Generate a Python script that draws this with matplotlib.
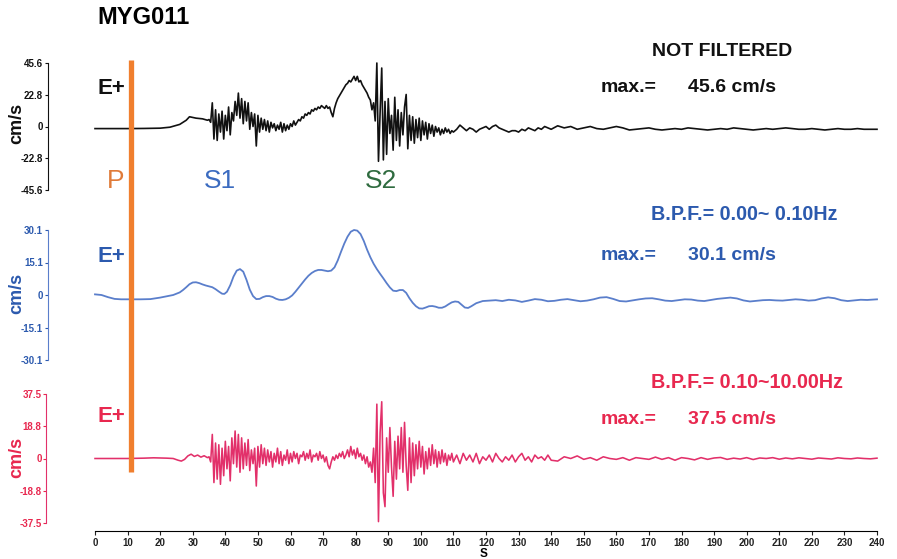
import matplotlib
matplotlib.use("Agg")
import matplotlib.pyplot as plt
import matplotlib.transforms as mtransforms
from matplotlib.lines import Line2D
import numpy as np

plt.rcParams['font.family'] = ['Liberation Sans', 'DejaVu Sans']

# ---- data (time in s, velocity in cm/s) ----
station = 'MYG011'
p_time = 11.0

# sample grids of the strong-motion part and of the coda
t_mid = np.arange(35.0, 110.5, 0.5)
t_coda1 = np.arange(111, 141, 1)
t_coda2 = np.arange(142, 242, 2)

# not filtered (black)
t_raw_head = [0, 5, 10, 15, 20, 23, 26, 28, 29, 31, 33, 34.5]
v_raw_head = [-1.5, -1.5, -1.5, -1.4, -1.2, -0.5, 1.5, 4.5, 7, 6, 5.5, 4.5]
v_raw_mid = [
    5, 3, 17, -9, 12, -10, 9, -4, 11, -9,
    8, -3, 14, -6, 10, 4, 18, 8, 24, 6,
    20, 2, 18, 4, 17, -2, 10, 0, 9, -14,
    8, -4, 6, -2, 5, -3, 4, -4, 3, -1,
    2, -3, 1, -2, 3, -4, 2, -3, 1, -2,
    2, 0, 4, 1, 3, 5, 4, 7, 6, 9,
    8, 10, 9, 12, 11, 13, 12, 14, 13, 15,
    14, 13, 15, 13, 14, 10, 7, 13, 17, 20,
    22, 24, 26, 28, 30, 31, 33, 32, 34, 36,
    33, 36, 32, 33, 30, 28, 26, 24, 21, 19,
    12, 17, 4, 45.6, -25, 10, 42, -24, 18, -20,
    20, -5, 8, -17, 21, -10, 12, -14, 10, -6,
    14, 23, -16, 8, -10, 7, -12, 5, -8, 6,
    -10, 4, -6, 3, -9, 2, -5, 1, -7, 0,
    -4, -1, -6, -2, -5, -1, -4, -2, -5, -3,
    -4,
]
v_raw_coda1 = [-2, 1, -1, -3, -1, -2, -4, -2, -1, 0,
               -2, 0, 1, -1, -2, -3, -4, -3, -3, -4,
               -2, -3, -1, -2, -3, -1, -2, 0, -1, -2]
v_raw_coda2 = [0.5, -1, 0, -2, -1, 0, -1.5, -2, -1, 0,
               -1, -2.5, -2, -1.5, -1, -2, -2.5, -2, -1.5, -2,
               -1, -1.5, -2, -2.5, -2, -1.5, -2, -1, -1.5, -2,
               -2.5, -2, -1.5, -2, -1.5, -1, -1.5, -2, -2, -1.5,
               -2, -2.5, -2, -1.5, -2, -2, -1.5, -2, -2, -2]

# band pass 0.00-0.10 Hz (blue)
t_low = [0, 2, 4, 6, 8, 10, 14, 17, 20, 22, 24, 26, 27, 28, 29, 30, 31, 32, 33, 34,
         35, 36, 37, 38, 39, 39.7, 40.5, 41.5, 42.5, 43.5, 44.5, 45.5, 46.5, 47.5, 48.5,
         49.5, 50.5, 51.5, 52.5, 53.5, 54.5, 55.5, 56.5, 57.5, 58.5, 59.5, 60.5, 61.5,
         62.5, 63.5, 64.5, 65.5, 66.5, 67.5, 68.5, 69.5, 70.5, 71.5, 72.5, 73.5, 74.5,
         75.5, 76.5, 77.5, 78.5, 79.5, 80.5, 81.5, 82.5, 83.5, 84.5, 85.5, 86.5, 87.5,
         88.5, 89.5, 90.5, 91.5, 92.5, 93.5, 94.5, 95.5, 96.5, 97.5, 98.5, 99.5, 100.5,
         101.5, 102.5, 103.5, 104.5, 105.5, 106.5, 107.5, 108.5, 109.5, 110.5, 111.5,
         112.5, 113.5, 114.5, 115.5, 117, 119, 121, 123, 125, 127, 129, 131, 133, 135,
         137, 139, 141, 143, 145, 147, 149, 151, 153, 155, 157, 159, 161, 163, 165, 167,
         169, 171, 173, 175, 177, 179, 181, 183, 185, 187, 189, 191, 193, 195, 197, 199,
         201, 203, 205, 207, 209, 211, 213, 215, 217, 219, 221, 223, 225, 227, 229, 231,
         233, 235, 237, 240]
v_low = [0.3, 0, -1, -1.8, -2, -2, -2, -1.9, -1.2, -0.6, 0, 1.2, 2.3, 3.6, 5, 5.8, 5.9,
         5.5, 4.9, 4.4, 4, 3.6, 2.7, 1.6, 0.6, 0.5, 1.5, 4.5, 8.5, 11.3, 12, 10.8, 7, 2.5,
         -0.5, -1.9, -1.8, -1, -0.5, -0.5, -0.9, -1.7, -2.2, -2.3, -2, -1.3, -0.2, 1.5,
         3.4, 5.3, 7.2, 8.9, 10.2, 11.1, 11.6, 11.6, 11.3, 11, 11.3, 12.8, 16, 20, 23.8,
         27, 29.3, 30.1, 29.8, 28.2, 25, 21, 17.5, 14.5, 12, 9.8, 7.7, 5.5, 3.5, 2, 1.8,
         2.3, 2.3, 1, -1.5, -3.6, -5.2, -6.2, -6.3, -5.8, -5.2, -5.1, -5.4, -5.9, -5.9,
         -5.3, -4.3, -3.4, -3, -3.2, -4.5, -5.8, -6, -5.2, -3.8, -2.8, -2.6, -2.4, -2.8,
         -2.2, -2.5, -3.2, -2.6, -1.9, -2.2, -2.9, -2.7, -2.2, -1.9, -2.4, -2.9, -2.6, -2,
         -1.2, -1, -1.8, -2.8, -3, -2.5, -2, -1.6, -1.5, -2, -2.6, -2.8, -2.4, -2, -2.1,
         -2.6, -2.8, -2.3, -1.8, -1.5, -1.2, -1.6, -2.5, -3, -2.7, -2.4, -2.3, -2.5, -2.6,
         -2.3, -2, -2.2, -2.6, -2.4, -1.6, -1.1, -1.5, -2.4, -2.8, -2.5, -2.2, -2.3, -2]

# band pass 0.10-10.00 Hz (red)
t_high_head = [0, 5, 10, 15, 18, 20, 22, 24, 25.5, 26.5, 27.5, 28.5, 29.5, 30.5, 31.5,
               32.5, 33.5, 34.5]
v_high_head = [0, 0, 0, 0.2, 0.4, 0.3, 0.2, 0, -1, -1.5, -0.5, 1.5, 2.5, 1.2, 2, 0.8,
               1.6, 0.5]
v_high_mid = [
    1, -2, 14, -14, 9, -12, 8, -15, 6, -10,
    10, -6, 7, -13, 12, -3, 16, -5, 14, -8,
    12, -6, 9, -4, 11, -7, 5, -3, 6, -16,
    7, -5, 8, -3, 6, -4, 5, -2, 4, -5,
    3, -2, 6, -3, 4, -4, 2, -1, 5, -3,
    3, -2, 4, 0, 3, -3, 2, 1, 4, -1,
    3, 0, 5, -2, 2, 1, 3, -1, 4, 0,
    2, -2, 1, -4, -6, -2, 1, -1, 2, 0,
    3, 1, 4, 0, 2, 5, 1, 7, 2, 5,
    0, 6, 1, 3, -1, 2, -3, 1, -5, -2,
    -8, 6, -14, 31.6, -36.7, 15, 33, -20, -28, 12,
    -8, 18, -5, -22, 10, -12, 13, -6, 18, -8,
    21, -4, -18.5, 12, -14, 9, -10, 8, -6, 10,
    -5, 7, -9, 4, -6, 6, -4, 8, -3, 5,
    -5, 4, -3, 5, -2, 3, -4, 2, -1, 3,
    -2,
]
v_high_coda1 = [2, -3, 3, -1, 2, -2, 3, -3, 1, -1,
                2, -2, 3, 0, -2, 1, -1, 2, -2, 1,
                3, -1, 1, -2, 2, 0, 1, -1, 2, -1]
v_high_coda2 = [-1.5, 1, 0, 1.5, -0.5, 0.5, -1, 1, 0, -0.5,
                0.5, -1, 0.5, 0, -0.5, 0.8, -0.5, 0.5, -1, 0.5,
                0, -0.8, 0.5, -0.5, 0.3, 0.6, -0.5, 0.2, -0.3, 0.5,
                -0.6, 0.3, 0, 0.5, -0.4, 0.3, -0.2, 0.4, 0, -0.4,
                0.3, 0, -0.3, 0.4, 0, -0.2, 0.3, 0, -0.2, 0.2]

y_max = [45.6, 30.1, 37.5]
filter_text = ['NOT FILTERED', 'B.P.F.= 0.00~ 0.10Hz', 'B.P.F.= 0.10~10.00Hz']

t_raw = np.concatenate([t_raw_head, t_mid, t_coda1, t_coda2])
v_raw = np.concatenate([v_raw_head, v_raw_mid, v_raw_coda1, v_raw_coda2])
t_high = np.concatenate([t_high_head, t_mid, t_coda1, t_coda2])
v_high = np.concatenate([v_high_head, v_high_mid, v_high_coda1, v_high_coda2])

line_col = ['#111111', '#5a7ecb', '#e2306a']
text_col = ['#111111', '#2c5aae', '#e8284f']

W, H = 897, 559
fig = plt.figure(figsize=(W / 100, H / 100), dpi=100)


def fx(px):
    return px / W


def fy(py):
    return 1 - py / H


# axes rectangles in pixels: (top, bottom)
boxes = [(63, 190), (230, 360), (394, 523)]
spine_out = [34, 34, 35]
axes = []
for i, (top, bot) in enumerate(boxes):
    ax = fig.add_axes([fx(95), fy(bot), fx(877) - fx(95), fy(top) - fy(bot)])
    ax.set_xlim(0, 240)
    ax.set_ylim(-y_max[i], y_max[i])
    yt = [-y_max[i], -y_max[i] / 2, 0, y_max[i] / 2, y_max[i]]
    ax.set_yticks(yt)
    ax.set_yticklabels(['%.1f' % v if v != 0 else '0' for v in yt])
    for s in ['top', 'right']:
        ax.spines[s].set_visible(False)
    ax.spines['left'].set_position(('outward', spine_out[i]))
    ax.spines['left'].set_color(line_col[i])
    ax.tick_params(axis='y', colors=text_col[i], labelsize=7, length=2.5, width=0.8, pad=1)
    for lab in ax.get_yticklabels():
        lab.set_fontweight('bold')
    ax.patch.set_visible(False)
    axes.append(ax)

ax1, ax2, ax3 = axes
for ax in (ax1, ax2):
    ax.spines['bottom'].set_visible(False)
    ax.set_xticks([])

ax3.spines['bottom'].set_position(('outward', 6))
ax3.set_xticks(np.arange(0, 250, 10))
ax3.tick_params(axis='x', labelsize=7, length=3, width=0.8, pad=2, colors='#222222')
for lab in ax3.get_xticklabels():
    lab.set_fontweight('bold')

ax1.plot(t_raw, v_raw, color=line_col[0], lw=1.2, clip_on=False)
ax2.plot(t_low, v_low, color=line_col[1], lw=1.3, clip_on=False)
ax3.plot(t_high, v_high, color=line_col[2], lw=1.15, clip_on=False)

# P arrival line across the panels
trans = mtransforms.blended_transform_factory(ax1.transData, fig.transFigure)
fig.add_artist(Line2D([p_time, p_time], [fy(60), fy(472)], transform=trans,
                      color='#f07f2e', lw=3.8, solid_capstyle='butt'))

# texts
fig.text(fx(97), fy(17), station, fontsize=17, fontweight='bold', va='center', ha='left')
e_y = [89, 256, 417]
ylab_y = [123, 293, 457]
max_y = [88, 256, 420]
filt_y = [52, 214, 382]
for i in range(3):
    fig.text(fx(97), fy(e_y[i]), 'E+', fontsize=16, fontweight='bold',
             color=text_col[i], va='center', ha='left')
    fig.text(fx(17), fy(ylab_y[i]), 'cm/s', fontsize=13, fontweight='bold',
             color=text_col[i], rotation=90, va='center', ha='center')
    fig.text(fx(601), fy(max_y[i]), 'max.=', fontsize=14, fontweight='bold',
             color=text_col[i], va='center', ha='left')
    fig.text(fx(688), fy(max_y[i]), '%.1f cm/s' % y_max[i], fontsize=14,
             fontweight='bold', color=text_col[i], va='center', ha='left')
fig.text(fx(722), fy(filt_y[0]), filter_text[0], fontsize=14, fontweight='bold',
         color=text_col[0], va='center', ha='center')
for i in (1, 2):
    fig.text(fx(651), fy(filt_y[i]), filter_text[i], fontsize=14.2, fontweight='bold',
             color=text_col[i], va='center', ha='left')

fig.text(fx(116), fy(181), 'P', fontsize=19, color='#e07b39', va='center', ha='center')
fig.text(fx(220), fy(181), 'S1', fontsize=19, color='#3b6bc0', va='center', ha='center')
fig.text(fx(381), fy(181), 'S2', fontsize=19, color='#2f6b3f', va='center', ha='center')
fig.text(fx(484), fy(554), 'S', fontsize=8.5, fontweight='bold', va='center', ha='center')

fig.savefig('out.png', dpi=100)
